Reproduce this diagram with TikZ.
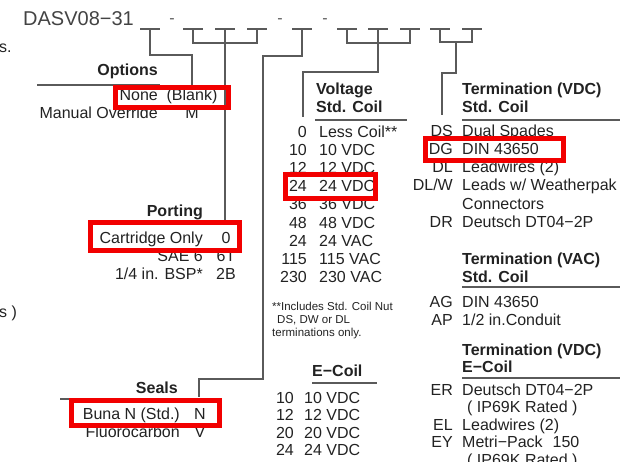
\documentclass[tikz,border=0pt]{standalone}
\usepackage{fontspec}
\setmainfont{Liberation Sans}
\usetikzlibrary{calc}
\definecolor{cline}{HTML}{5A5A5A}
\definecolor{ctext}{HTML}{222222}
\definecolor{cred}{HTML}{F20000}
\tikzset{
  txt/.style={font=\fontsize{16}{18}\selectfont, text=ctext, inner sep=0pt, anchor=base west},
  rtxt/.style={txt, anchor=base east},
  ctxt/.style={txt, anchor=base},
  head/.style={txt, font=\fontsize{16}{18}\selectfont\bfseries},
  rhead/.style={head, anchor=base east},
  note/.style={txt, font=\fontsize{11.5}{13}\selectfont},
  wire/.style={draw=cline, line width=1.2pt},
  rule/.style={draw=cline, line width=1.4pt},
  hilite/.style={draw=cred, line width=5pt},
}

\begin{document}
\begin{tikzpicture}[x=1pt, y=-1pt]
  \useasboundingbox (0,0) rectangle (620,462);
  \clip (0,0) rectangle (620,462);
  % part number with its blanks
  \node[txt, font=\fontsize{20}{24}\selectfont, text=ctext!85] (part) at (23,26) {DASV08−31};
  \foreach \x [count=\i] in {140,183,215,247,292,337,368,400,430,462} {
    \draw[wire] (\x,29) -- ++(20,0);
    \coordinate (b\i) at (\x+10,29);
  }
  \foreach \x [count=\i] in {172,280,325} \node[ctxt, text=cline] (d\i) at (\x,24) {-};
  % cut-off text on the left edge
  \node[txt] (cut1) at (-1,53) {s.};
  \node[txt] (cut2) at (-1,317) {s )};

  % ends of the brackets
  \coordinate (optEnd) at (192,85);
  \coordinate (portEnd) at (225,220);
  \coordinate (sealBend) at (263,379);
  \coordinate (sealEnd) at (199,397);
  \coordinate (voltEnd) at (303,117);
  \coordinate (termEnd) at (442,115);
  \draw[wire] (b1) -- ++(0,26) -| (optEnd);
  \draw[wire] (b2) -- ++(0,14) -| (b4);
  \draw[wire] (b3) -- (portEnd);
  \draw[wire] (b5) -- ++(0,27) -| (sealBend) -| (sealEnd);
  \draw[wire] (b6) -- ++(0,14) -| (b8);
  \draw[wire] (b7) -- ++(0,43) -| (voltEnd);
  \draw[wire] (b9) -- ++(0,13) -| (b10);
  \draw[wire] ($(b9)!.5!(b10)+(0,13)$) -- ++(0,31) -| (termEnd);

  % options
  \node[rhead] (opth) at (158,76) {Options};
  \draw[rule] (37,85) -- (160,85);
  \foreach \l/\c [count=\i] in {None/(Blank), Manual Override/M} {
    \node[rtxt] (opt\i) at (158,83+18*\i) {\l};
    \node[ctxt] (optc\i) at (192,83+18*\i) {\c};
  }
  % porting
  \node[rhead] (porth) at (203,217) {Porting};
  \foreach \l/\c [count=\i] in {Cartridge Only/0, SAE 6/6T, {1/4 in. BSP*}/2B} {
    \node[rtxt] (port\i) at (203,225+18*\i) {\l};
    \node[ctxt] (portc\i) at (226,225+18*\i) {\c};
  }
  % seals
  \node[rhead] (sealh) at (178,393) {Seals};
  \draw[rule] (60,399) -- (205,399);
  \foreach \l/\c [count=\i] in {Buna N (Std.)/N, Fluorocarbon/V} {
    \node[rtxt] (seal\i) at (180,401+18*\i) {\l};
    \node[ctxt] (sealc\i) at (200,401+18*\i) {\c};
  }

  % voltage, std. coil
  \node[head] (volth) at (316,95) {Voltage};
  \node[head] (volth2) at (316,113) {Std. Coil};
  \draw[rule] (315,120) -- (407,120);
  \foreach \n/\t [count=\i] in {0/Less Coil**, 10/10 VDC, 12/12 VDC, 24/24 VDC, 36/36 VDC,
      48/48 VDC, 24/24 VAC, 115/115 VAC, 230/230 VAC} {
    \node[rtxt] (vn\i) at (307,120+18*\i) {\n};
    \node[txt] (vt\i) at (319,120+18*\i) {\t};
  }
  \node[note] (fn1) at (272,310) {**Includes Std. Coil Nut};
  \node[note] (fn2) at (277,323) {DS, DW or DL};
  \node[note] (fn3) at (272,336) {terminations only.};
  % voltage, e-coil
  \node[head] (eh) at (312,376) {E−Coil};
  \draw[rule] (312,383) -- (377,383);
  \foreach \n [count=\i] in {10,12,20,24} {
    \node[rtxt] (en\i) at (294,385.5+17.5*\i) {\n};
    \node[txt] (et\i) at (304,385.5+17.5*\i) {\n\ VDC};
  }

  % termination (VDC), std. coil
  \node[head] (tdh) at (462,95) {Termination (VDC)};
  \node[head] (tdh2) at (462,113) {Std. Coil};
  \draw[rule] (462,120) -- (620,120);
  \foreach \c/\t [count=\i] in {DS/Dual Spades, DG/DIN 43650, DL/Leadwires (2),
      {DL/W}/{Leads w/ Weatherpak}} {
    \node[rtxt] (td\i) at (453,119+18*\i) {\c};
    \node[txt] (tdt\i) at (462,119+18*\i) {\t};
  }
  \node[txt] (tdt5) at (462,209) {Connectors};
  \node[rtxt] (td6) at (453,227) {DR};
  \node[txt] (tdt6) at (462,227) {Deutsch DT04−2P};
  % termination (VAC), std. coil
  \node[head] (tah) at (462,264) {Termination (VAC)};
  \node[head] (tah2) at (462,282) {Std. Coil};
  \draw[rule] (462,287) -- (620,287);
  \node[rtxt] (ta1) at (453,307) {AG};
  \node[txt] (tat1) at (462,307) {DIN 43650};
  \node[rtxt] (ta2) at (453,325) {AP};
  \node[txt] (tat2) at (462,325) {1/2 in.Conduit};
  % termination (VDC), e-coil
  \node[head] (teh) at (462,355) {Termination (VDC)};
  \node[head] (teh2) at (462,372) {E−Coil};
  \draw[rule] (462,378) -- (620,378);
  \node[rtxt] (te1) at (453,395) {ER};
  \node[txt] (tet1) at (462,395) {Deutsch DT04−2P};
  \node[txt] (tet1b) at (467,412.5) {( IP69K Rated )};
  \node[rtxt] (te2) at (453,430) {EL};
  \node[txt] (tet2) at (462,430) {Leadwires (2)};
  \node[rtxt] (te3) at (453,447.5) {EY};
  \node[txt] (tet3) at (462,447.5) {Metri−Pack\hspace{10pt}150};
  \node[txt] (tet3b) at (467,465) {( IP69K Rated )};

  % selected options
  \draw[hilite] (115.5,88) rectangle (228,108);
  \draw[hilite] (90,222) rectangle (239.5,250.5);
  \draw[hilite] (71,400) rectangle (219,425.5);
  \draw[hilite] (285.5,174.5) rectangle (375.5,199);
  \draw[hilite] (425,139) rectangle (563,160.5);
\end{tikzpicture}
\end{document}
